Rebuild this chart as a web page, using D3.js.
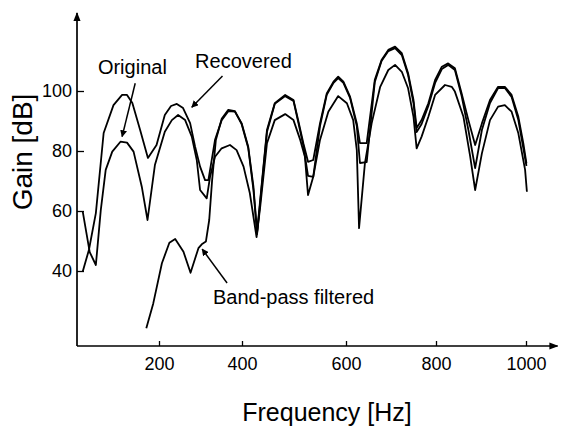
<!DOCTYPE html>
<html>
<head>
<meta charset="utf-8">
<script src="https://cdn.jsdelivr.net/npm/d3@7"></script>
<style>
  body { margin: 0; background: #fff; }
  svg { display: block; font-family: "Liberation Sans", Arial, Helvetica, sans-serif; }
</style>
</head>
<body>
<svg id="chart"></svg>
<script>
// frequency [Hz] / gain [dB]
const originalHz = [14,31,46,58,70,86,106,122,138,158,172,190,214,231,246,263,279,291,299,315,323,335,351,371,387,403,415,428,435,448,463,483,499,512,521,527,537,550,566,585,602,616,624,629,642,657,676,694,709,724,738,750,757,768,783,798,820,835,842,861,876,887,902,920,938,953,968,983,998,1002];
const originalDb = [59.8,46.3,42.0,60.3,73.7,79.8,83.1,82.8,79.8,68.1,57.0,75.3,86.4,90.3,92.0,90.3,84.8,77.0,67.0,64.2,71.4,78.1,80.9,82.0,80.3,74.8,66.0,51.3,61.4,82.6,90.3,92.3,90.3,83.7,78.1,65.3,71.4,83.7,93.1,98.3,95.9,90.3,80.3,54.3,75.9,89.2,101.4,107.0,108.7,106.4,100.9,91.4,80.9,84.8,91.4,98.7,102.0,101.4,99.8,91.4,78.1,67.0,79.2,90.3,94.8,95.3,93.1,85.9,73.7,66.4];

const recoveredHz = [14,29,46,65,89,110,122,135,154,173,194,214,229,243,258,275,287,299,311,319,335,351,367,383,399,412,422,429,435,448,463,483,499,508,518,527,537,550,563,576,585,595,609,624,631,646,664,679,694,709,724,738,750,757,768,783,798,813,827,842,857,872,887,902,920,938,953,968,983,994,1001];
const recoveredDb = [39.8,47.0,59.3,86.0,95.3,98.7,98.7,96.0,87.0,77.7,82.0,92.0,95.0,95.7,94.3,89.3,81.4,74.8,70.3,70.3,83.7,90.3,93.3,93.1,89.3,81.4,68.1,53.0,63.7,87.0,95.9,98.7,97.0,90.3,82.6,76.4,77.0,89.2,99.2,103.1,104.8,103.1,98.1,89.2,82.6,82.6,103.7,110.3,113.7,114.8,112.6,105.9,97.0,87.7,90.3,95.9,103.7,108.1,109.2,107.6,99.2,90.3,82.0,89.2,97.0,101.4,101.4,98.7,91.4,82.6,75.9];

const bandpassHz = [169,186,207,225,239,259,276,295,303,313,321,328,337,351,367,383,399,412,422,429,435,448,463,483,499,508,518,527,537,550,563,576,585,595,609,624,631,646,664,679,694,709,724,738,750,757,768,783,798,813,827,842,857,872,887,902,920,938,953,968,983,994,1001];
const bandpassDb = [20.9,29.2,42.6,49.4,50.7,46.4,39.4,47.6,48.9,49.8,57.0,70.3,83.7,90.7,93.7,93.3,89.0,81.0,67.0,52.3,63.0,86.3,95.7,98.3,96.7,89.7,81.7,71.7,71.4,88.3,98.7,102.7,104.3,102.7,97.7,88.3,76.0,76.3,103.0,110.0,113.3,114.3,112.0,105.3,96.0,86.3,89.0,95.0,102.7,107.3,108.7,107.0,98.3,87.0,74.3,87.0,96.0,101.0,101.0,98.0,90.3,81.0,75.0];

const xTicks = [200, 400, 600, 800, 1000];
const yTicks = [40, 60, 80, 100];

// setting up svg
const w = 561;
const h = 429;
const svg = d3.select('#chart').attr('width', w).attr('height', h);

// the printed frequency axis is not evenly spaced, so the scale is piecewise
const xScale = d3.scaleLinear()
  .domain([0, 200, 400, 600, 800, 1000])
  .range([77, 159, 242, 346, 436, 526]);
const yScale = d3.scaleLinear().domain([15, 125]).range([346, 16]);

// arrow head markers
const defs = svg.append('defs');
defs.append('marker')
  .attr('id', 'head')
  .attr('viewBox', '0 0 10 10')
  .attr('refX', 9).attr('refY', 5)
  .attr('markerWidth', 7).attr('markerHeight', 7)
  .attr('markerUnits', 'userSpaceOnUse')
  .attr('orient', 'auto')
  .append('path')
  .attr('d', 'M0,0 L10,5 L0,10 z')
  .attr('fill', '#000');
defs.append('marker')
  .attr('id', 'axhead')
  .attr('viewBox', '0 0 10 10')
  .attr('refX', 9).attr('refY', 5)
  .attr('markerWidth', 9).attr('markerHeight', 9)
  .attr('markerUnits', 'userSpaceOnUse')
  .attr('orient', 'auto')
  .append('path')
  .attr('d', 'M0,1 L10,5 L0,9 z')
  .attr('fill', '#000');

// axes
const x0 = xScale(0);
const y0 = yScale(15);
const xAxis = d3.axisBottom(xScale).tickValues(xTicks).tickFormat(d3.format('d')).tickSize(-5).tickPadding(11);
const yAxis = d3.axisLeft(yScale).tickValues(yTicks).tickSize(-7).tickPadding(5);

const gx = svg.append('g').attr('transform', `translate(0,${y0})`).call(xAxis);
const gy = svg.append('g').attr('transform', `translate(${x0},0)`).call(yAxis);
[gx, gy].forEach(g => {
  g.select('.domain').remove();
  g.selectAll('line').attr('stroke', '#000').attr('stroke-width', 1.3);
  g.selectAll('text').attr('font-size', 18).attr('fill', '#000').style('font-family', '"Liberation Sans", Arial, sans-serif');
});

svg.append('line')
  .attr('x1', x0).attr('y1', y0)
  .attr('x2', xScale(1070)).attr('y2', y0)
  .attr('stroke', '#000').attr('stroke-width', 1.7)
  .attr('marker-end', 'url(#axhead)');
svg.append('line')
  .attr('x1', x0).attr('y1', y0)
  .attr('x2', x0).attr('y2', yScale(126))
  .attr('stroke', '#000').attr('stroke-width', 1.7)
  .attr('marker-end', 'url(#axhead)');

// axis titles
svg.append('text')
  .attr('x', 327).attr('y', 421)
  .attr('text-anchor', 'middle')
  .attr('font-size', 25)
  .text('Frequency [Hz]');
svg.append('text')
  .attr('transform', 'translate(32,152) rotate(-90)')
  .attr('text-anchor', 'middle')
  .attr('font-size', 28)
  .text('Gain [dB]');

// curves
const line = d3.line()
  .x(d => xScale(d[0]))
  .y(d => yScale(d[1]));

const series = [
  d3.zip(originalHz, originalDb),
  d3.zip(recoveredHz, recoveredDb),
  d3.zip(bandpassHz, bandpassDb)
];

svg.selectAll('.curve')
  .data(series)
  .join('path')
  .attr('class', 'curve')
  .attr('d', d => line(d))
  .attr('fill', 'none')
  .attr('stroke', '#000')
  .attr('stroke-width', 1.8)
  .attr('stroke-linejoin', 'round');

// labels with pointer arrows (data coordinates)
const notes = [
  { text: 'Original', tx: 51, ty: 105.7, from: [142, 102.6], to: [110, 84.8] },
  { text: 'Recovered', tx: 287, ty: 107.7, from: [353, 105], to: [279, 94.6] },
  { text: 'Band-pass filtered', tx: 330, ty: 29, from: [364, 36], to: [304, 47.3] }
];

svg.selectAll('.note')
  .data(notes)
  .join('text')
  .attr('class', 'note')
  .attr('x', d => xScale(d.tx))
  .attr('y', d => yScale(d.ty))
  .attr('font-size', 20)
  .text(d => d.text);

svg.selectAll('.pointer')
  .data(notes)
  .join('line')
  .attr('class', 'pointer')
  .attr('x1', d => xScale(d.from[0])).attr('y1', d => yScale(d.from[1]))
  .attr('x2', d => xScale(d.to[0])).attr('y2', d => yScale(d.to[1]))
  .attr('stroke', '#000')
  .attr('stroke-width', 1.5)
  .attr('marker-end', 'url(#head)');
</script>
</body>
</html>
